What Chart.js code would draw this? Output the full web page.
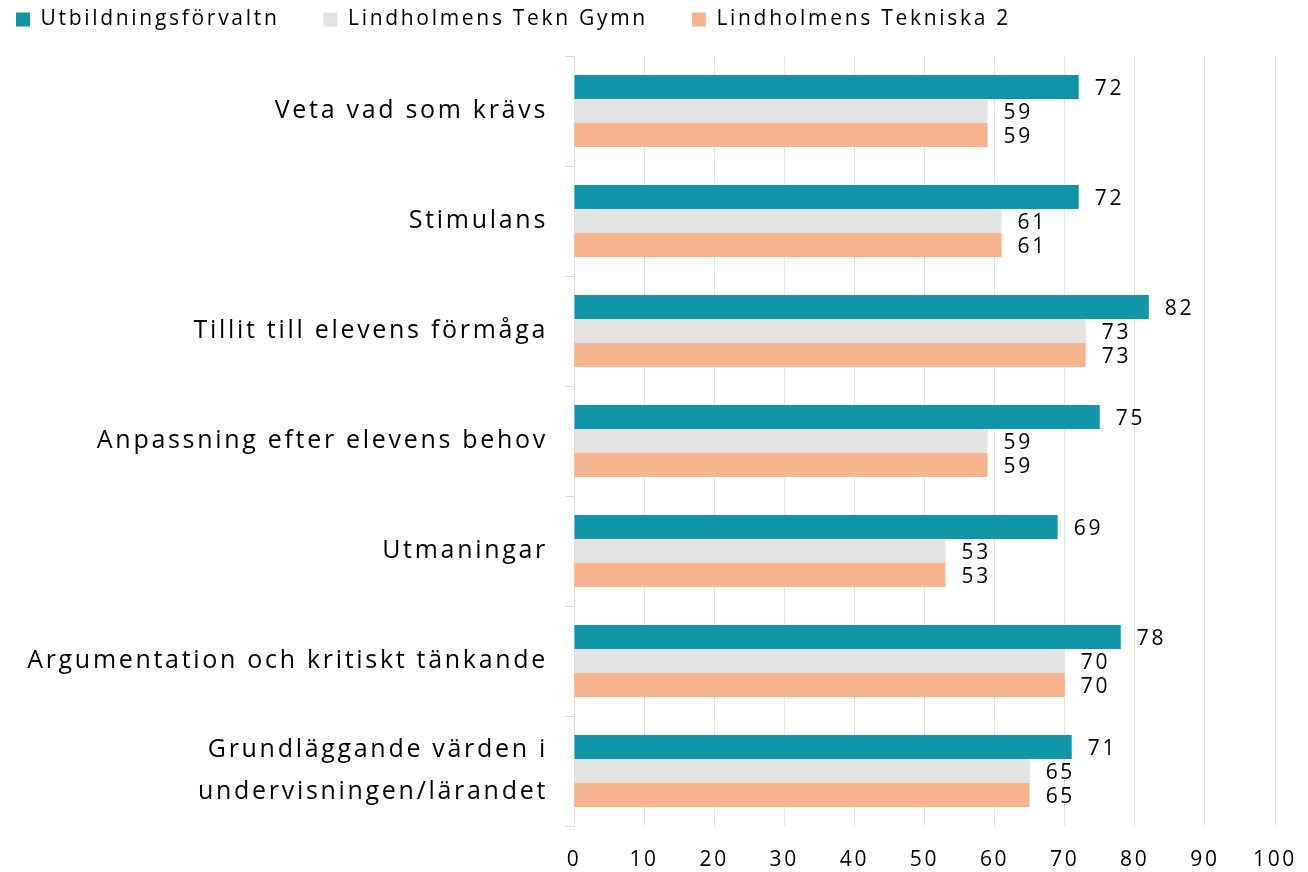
<!DOCTYPE html>
<html>
<head>
<meta charset="utf-8">
<script src="https://cdn.jsdelivr.net/npm/chart.js@4"></script>
<style>
html,body{margin:0;padding:0;background:#fff;}
#wrap{width:1308px;height:872px;position:relative;}
</style>
</head>
<body>
<div id="wrap"><canvas id="c" width="1308" height="872"></canvas></div>
<script>
const categories = [
  "Veta vad som krävs",
  "Stimulans",
  "Tillit till elevens förmåga",
  "Anpassning efter elevens behov",
  "Utmaningar",
  "Argumentation och kritiskt tänkande",
  ["Grundläggande värden i", "undervisningen/lärandet"]
];
const seriesNames = ["Utbildningsförvaltn", "Lindholmens Tekn Gymn", "Lindholmens Tekniska 2"];
const utbildning = [72, 72, 82, 75, 69, 78, 71];
const teknGymn = [59, 61, 73, 59, 53, 70, 65];
const tekniska2 = [59, 61, 73, 59, 53, 70, 65];
const xTicks = [0, 10, 20, 30, 40, 50, 60, 70, 80, 90, 100];

const FONT = "'Open Sans', sans-serif";
const SPACING = "2.7px";
const colors = ["#1196A9", "#E3E3E3", "#F7B48C"];
const LEGEND_PAD = 44;
const PAD_TOP = -35;
const PLOT_TOP = 56;

const spacingPlugin = {
  id: 'spacing',
  beforeUpdate(chart) { chart.ctx.letterSpacing = SPACING; },
  beforeLayout(chart) {
    chart.ctx.letterSpacing = SPACING;
    const lg = chart.legend;
    if (lg && !lg._patched) {
      const f = lg.fit;
      lg.fit = function() { f.call(this); this.height = PLOT_TOP - PAD_TOP; };
      lg._patched = true;
    }
  },
  beforeDraw(chart) { chart.ctx.letterSpacing = SPACING; }
};

const labelPlugin = {
  id: 'valueLabels',
  afterDatasetsDraw(chart) {
    const ctx = chart.ctx;
    ctx.save();
    ctx.font = "21px " + FONT;
    ctx.fillStyle = "#000";
    ctx.textAlign = "left";
    ctx.textBaseline = "middle";
    chart.data.datasets.forEach((ds, i) => {
      const meta = chart.getDatasetMeta(i);
      meta.data.forEach((el, j) => {
        ctx.fillText(String(ds.data[j]), el.x + 16, el.y + 2);
      });
    });
    ctx.restore();
  }
};

new Chart(document.getElementById('c'), {
  type: 'bar',
  data: {
    labels: categories,
    datasets: [
      {label: seriesNames[0], data: utbildning, backgroundColor: colors[0]},
      {label: seriesNames[1], data: teknGymn, backgroundColor: colors[1]},
      {label: seriesNames[2], data: tekniska2, backgroundColor: colors[2]}
    ]
  },
  options: {
    indexAxis: 'y',
    responsive: false,
    animation: false,
    devicePixelRatio: 1,
    layout: {padding: {left: 16 - LEGEND_PAD, right: 33, top: PAD_TOP, bottom: 0}},
    datasets: {bar: {categoryPercentage: 0.655, barPercentage: 1.0}},
    plugins: {
      legend: {
        position: 'top',
        align: 'start',
        labels: {
          boxWidth: 14, boxHeight: 14, padding: LEGEND_PAD,
          color: '#000',
          font: {family: FONT, size: 21}
        }
      },
      tooltip: {enabled: false}
    },
    scales: {
      x: {
        min: 0, max: 100,
        ticks: {stepSize: 10, color: '#000', font: {family: FONT, size: 21}, padding: 21},
        grid: {color: '#E2E2E2', lineWidth: 1, drawTicks: false},
        border: {display: false},
        afterFit(scale) { scale.height = 46; scale.paddingLeft = 0; scale.paddingRight = 0; },
        afterBuildTicks(scale) { scale.ticks = xTicks.map(v => ({value: v})); }
      },
      y: {
        ticks: {color: '#000', font: {family: FONT, size: 25, lineHeight: 1.7}, padding: 17, autoSkip: false},
        grid: {color: '#D9D9D9', drawOnChartArea: false, drawTicks: true, tickLength: 9},
        border: {display: true, color: '#D9D9D9'},
        afterFit(scale) { scale.width = 574 - (16 - LEGEND_PAD); scale.paddingTop = 0; scale.paddingBottom = 0; }
      }
    }
  },
  plugins: [spacingPlugin, labelPlugin]
});
</script>
</body>
</html>
